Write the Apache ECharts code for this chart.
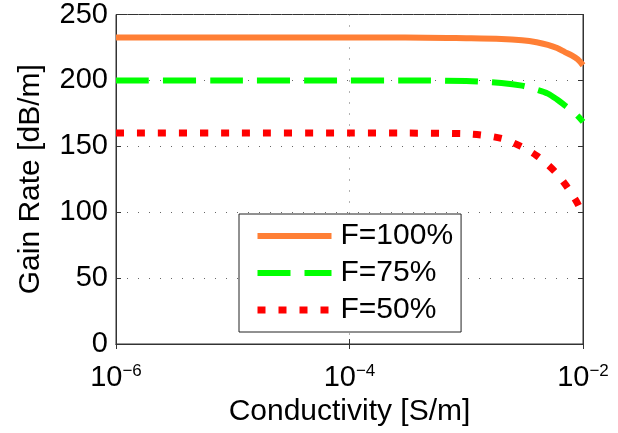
<!DOCTYPE html>
<html>
<head>
<meta charset="utf-8">
<script src="https://cdn.jsdelivr.net/npm/echarts@6/dist/echarts.min.js"></script>
<style>
html,body{margin:0;padding:0;background:#fff;}
#chart{width:618px;height:433px;}
</style>
</head>
<body>
<div id="chart"></div>
<script>
// Data
var conductivity = [1e-6, 1e-5, 1e-4, 3e-4, 1e-3, 2e-3, 3e-3, 4e-3, 5e-3, 6e-3, 7e-3, 8e-3, 9e-3, 1e-2];
var gainF100 = [232.5, 232.5, 232.5, 232.5, 232, 231.5, 230.5, 229, 227, 224.5, 221.5, 219, 216, 211.5];
var gainF75  = [200, 200, 200, 200, 199.5, 198, 196, 193, 190, 185.5, 181, 177, 173, 168.5];
var gainF50  = [160, 160, 160, 160, 159.5, 156, 149.5, 143, 136, 129, 121.5, 114, 106.5, 98];
var seriesNames = ['F=100%', 'F=75%', 'F=50%'];
var xTickExponents = [-6, -4, -2];
var yTicks = [0, 50, 100, 150, 200, 250];

function pairs(xs, ys) { return xs.map(function (x, i) { return [x, ys[i]]; }); }

var FONT = '"Liberation Sans", Arial, Helvetica, sans-serif';
var COLORS = ['#FF7F35', '#00FF00', '#FF0000'];
var WIDTHS = [6, 6, 7];
var DASHES = ['solid', [33, 14], [8, 13]];

var chart = echarts.init(document.getElementById('chart'), null, {renderer: 'canvas'});

var gridLine = {show: true, lineStyle: {color: '#666', width: 1, type: [1, 10]}};

var legendData = seriesNames.map(function (n, i) {
  return {name: n, itemStyle: {opacity: 0}, lineStyle: {width: WIDTHS[i], type: DASHES[i], color: COLORS[i], cap: 'butt'}};
});

var option = {
  animation: false,
  backgroundColor: '#fff',
  textStyle: {fontFamily: FONT},
  grid: {left: 116, right: 35, top: 12, bottom: 89, show: true, borderColor: '#333', borderWidth: 1, backgroundColor: 'transparent'},
  legend: {
    show: true,
    orient: 'vertical',
    left: 239, top: 214,
    padding: [7, 8, 7, 15],
    itemGap: 7,
    itemWidth: 74, itemHeight: 14,
    backgroundColor: '#fff',
    borderColor: '#222', borderWidth: 1,
    textStyle: {fontSize: 30, lineHeight: 30, color: '#000', fontFamily: FONT, padding: [0, 0, 0, 4]},
    data: legendData
  },
  xAxis: [{
    type: 'log', logBase: 10, min: 1e-6, max: 1e-2, interval: 2,
    name: 'Conductivity [S/m]', nameLocation: 'middle', nameGap: 49,
    nameTextStyle: {fontSize: 30, color: '#000', fontFamily: FONT},
    axisLine: {show: true, lineStyle: {color: '#333', width: 1}},
    axisTick: {show: true, inside: true, length: 5, lineStyle: {color: '#333'}},
    minorTick: {show: false},
    splitLine: gridLine,
    axisLabel: {
      margin: 19, color: '#000',
      formatter: function (v) {
        var e = Math.round(Math.log10(v));
        if (xTickExponents.indexOf(e) < 0) return '';
        return '{b|10}{e|\u2212' + Math.abs(e) + '}';
      },
      rich: {
        b: {fontSize: 29, lineHeight: 29, padding: [17, 0, 0, 0], verticalAlign: 'bottom', color: '#000', fontFamily: FONT},
        e: {fontSize: 17, lineHeight: 17, verticalAlign: 'top', color: '#000', fontFamily: FONT}
      }
    }
  }, {
    type: 'log', logBase: 10, min: 1e-6, max: 1e-2, interval: 2, position: 'top',
    axisLine: {show: true, lineStyle: {color: '#333'}},
    axisTick: {show: true, inside: true, length: 5, lineStyle: {color: '#333'}},
    axisLabel: {show: false}, splitLine: {show: false}
  }],
  yAxis: [{
    type: 'value', min: 0, max: 250, interval: 50,
    name: 'Gain Rate [dB/m]', nameLocation: 'middle', nameGap: 70,
    nameTextStyle: {fontSize: 30, color: '#000', fontFamily: FONT},
    axisLine: {show: true, lineStyle: {color: '#333', width: 1}},
    axisTick: {show: true, inside: true, length: 5, lineStyle: {color: '#333'}},
    splitLine: gridLine,
    axisLabel: {fontSize: 29, color: '#000', margin: 8, fontFamily: FONT,
      formatter: function (v) { return yTicks.indexOf(v) >= 0 ? String(v) : ''; }}
  }, {
    type: 'value', min: 0, max: 250, interval: 50, position: 'right',
    axisLine: {show: true, lineStyle: {color: '#333'}},
    axisTick: {show: true, inside: true, length: 5, lineStyle: {color: '#333'}},
    axisLabel: {show: false}, splitLine: {show: false}
  }],
  series: [gainF100, gainF75, gainF50].map(function (vals, i) {
    return {
      name: seriesNames[i], type: 'line', data: pairs(conductivity, vals),
      smooth: 0.3, showSymbol: false, symbol: 'none', color: COLORS[i],
      lineStyle: {width: WIDTHS[i], color: COLORS[i], type: DASHES[i], cap: 'butt'}
    };
  })
};
chart.setOption(option);
</script>
</body>
</html>
